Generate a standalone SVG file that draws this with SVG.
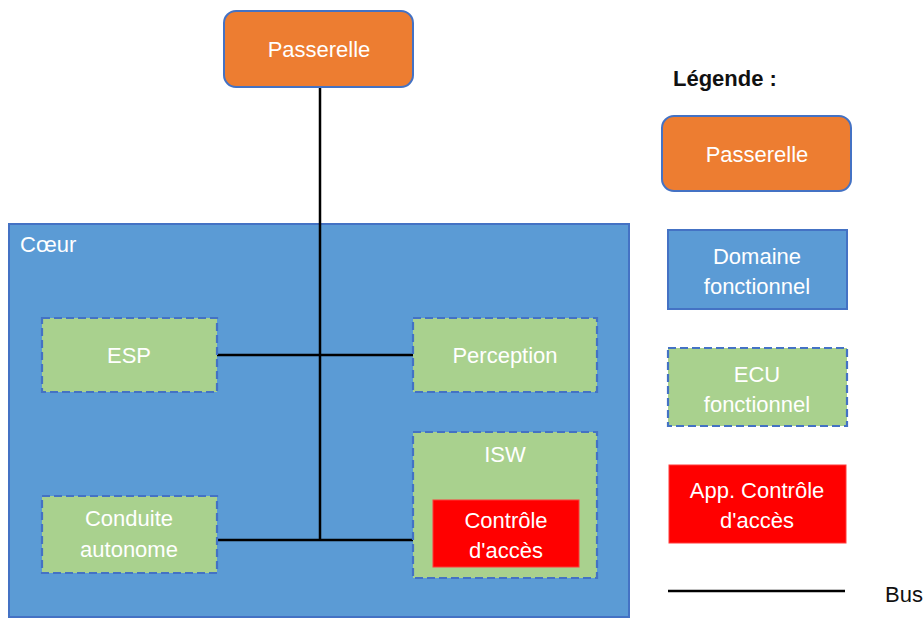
<svg xmlns="http://www.w3.org/2000/svg" width="923" height="619" viewBox="0 0 923 619">
<style>
.gw{fill:#ED7D31;stroke:#4472C4;stroke-width:2}
.dom{fill:#5B9BD5;stroke:#4472C4;stroke-width:2}
.ecu{fill:#A9D18E;stroke:#4472C4;stroke-width:2.2;stroke-dasharray:8 4}
.app{fill:#FF0000;stroke:#FF3B3B;stroke-width:1}
.t{font-family:"Liberation Sans",Arial,sans-serif;font-size:22px;fill:#FFFFFF;text-anchor:middle}
.k{font-family:"Liberation Sans",Arial,sans-serif;font-size:22px;fill:#111111}
.bus{stroke:#000000;stroke-width:2.5;fill:none}
</style>
<rect width="923" height="619" fill="#FFFFFF"/>
<g id="coeur">
<rect class="dom" x="9" y="224" width="620" height="393"/>
<text class="t" x="20" y="252" style="text-anchor:start">Cœur</text>
</g>
<g id="connectors">
<line class="bus" x1="320" y1="87" x2="320" y2="541"/>
<line class="bus" x1="217" y1="355" x2="413" y2="355"/>
<line class="bus" x1="217" y1="540" x2="413" y2="540"/>
</g>
<g id="passerelle">
<rect class="gw" x="224" y="11" width="189" height="76" rx="12"/>
<text class="t" x="319" y="57">Passerelle</text>
</g>
<g id="esp">
<rect class="ecu" x="42" y="318" width="175" height="74"/>
<text class="t" x="129" y="363">ESP</text>
</g>
<g id="perception">
<rect class="ecu" x="413" y="318" width="184" height="74"/>
<text class="t" x="505" y="363">Perception</text>
</g>
<g id="conduite">
<rect class="ecu" x="42" y="496" width="175" height="77"/>
<text class="t" x="129" y="526">Conduite</text>
<text class="t" x="129" y="557">autonome</text>
</g>
<g id="isw">
<rect class="ecu" x="413" y="432" width="184" height="146"/>
<text class="t" x="505" y="462">ISW</text>
</g>
<g id="controle">
<rect class="app" x="433" y="500" width="146" height="67"/>
<text class="t" x="506" y="528">Contrôle</text>
<text class="t" x="506" y="558">d'accès</text>
</g>
<g id="legende">
<text class="k" x="673" y="86" style="font-weight:bold">Légende :</text>
<g id="leg-passerelle">
<rect class="gw" x="662" y="116" width="189" height="75" rx="12"/>
<text class="t" x="757" y="162">Passerelle</text>
</g>
<g id="leg-domaine">
<rect class="dom" x="668" y="230" width="179" height="79"/>
<text class="t" x="757" y="264">Domaine</text>
<text class="t" x="757" y="294">fonctionnel</text>
</g>
<g id="leg-ecu">
<rect class="ecu" x="668" y="348" width="179" height="78"/>
<text class="t" x="757" y="382">ECU</text>
<text class="t" x="757" y="412">fonctionnel</text>
</g>
<g id="leg-app">
<rect class="app" x="669" y="465" width="177" height="78"/>
<text class="t" x="757" y="498">App. Contrôle</text>
<text class="t" x="757" y="528">d'accès</text>
</g>
<g id="leg-bus">
<line class="bus" x1="668" y1="591" x2="845" y2="591"/>
<text class="k" x="885" y="602">Bus</text>
</g>
</g>
</svg>
